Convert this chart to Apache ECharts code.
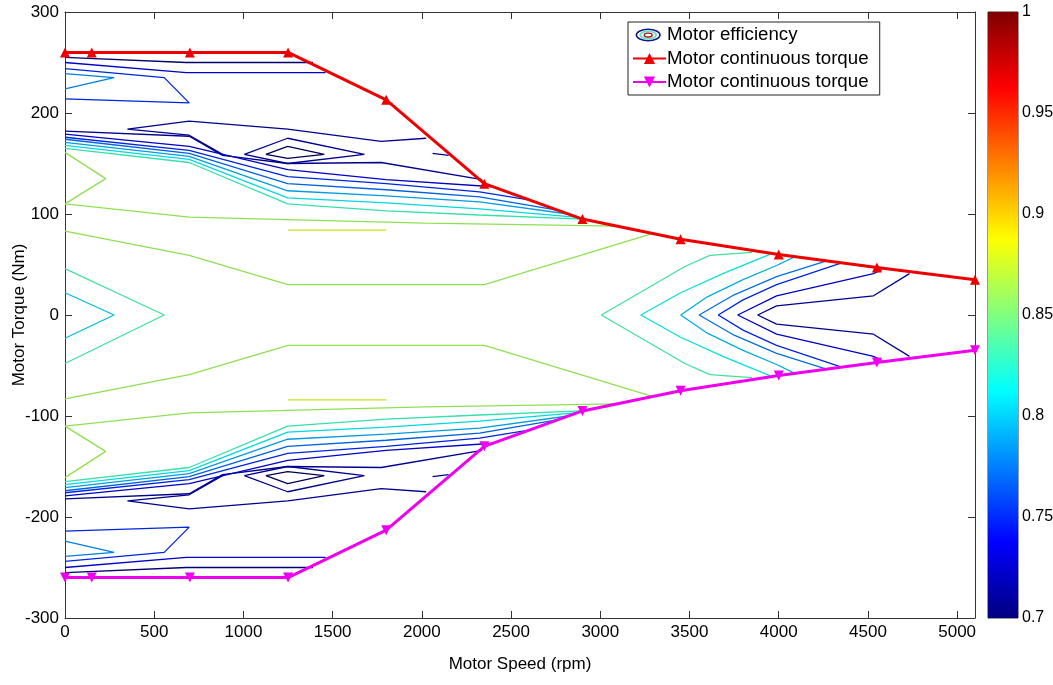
<!DOCTYPE html>
<html>
<head>
<meta charset="utf-8">
<script src="https://cdn.jsdelivr.net/npm/echarts@6/dist/echarts.min.js"></script>
<style>
  html, body { margin: 0; padding: 0; background: #fff; }
  #main { width: 1053px; height: 685px; }
</style>
</head>
<body>
<div id="main"></div>
<script>
// torque envelope
var speeds = [0, 150, 700, 1250, 1800, 2350, 2900, 3450, 4000, 4550, 5100];
var torqueMax = [260, 260, 260, 260, 213, 130, 95, 75, 60, 47, 35];
var torqueMin = [-260, -260, -260, -260, -213, -130, -95, -75, -60, -47, -35];

// contour lines, [speed, torque]
var top1 = [[0,255],[680,250],[1390,250]];
var top2 = [[0,250],[680,240],[1460,240]];
var top3 = [[0,244],[556,235],[696,210],[0,214]];
var top4 = [[0,239],[275,235],[0,224]];
var loopTop = [[2024,175],[1772,172],[1248,184],[696,192],[350,184],[696,178],[883,159]];
var diamondOutTop = [[1005,159],[1248,175],[1678,159],[1248,150],[1005,159]];
var diamondInTop = [[1126,159],[1248,167],[1453,159],[1248,155],[1126,159]];
var dashTop = [[2060,160],[2150,158]];
var aTop = [[0,182],[696,177],[883,158],[1248,150],[1772,151],[2338,134]];
var bTop = [[0,179],[696,167],[1248,144],[1800,134],[2400,127]];
var cTop = [[0,176],[696,163],[1248,137],[1800,130],[2323,122],[2600,114]];
var dTop = [[0,174],[696,160],[1248,130],[1800,124],[2323,117],[2750,104]];
var eTop = [[0,171],[696,157],[1248,123],[1800,118],[2323,112],[2820,100]];
var fTop = [[0,168],[696,154],[1248,116],[1800,111],[2323,105],[2860,97]];
var gTop = [[0,165],[696,151],[1248,110],[1800,103],[2323,99],[2900,95]];
var vTop = [[0,161],[228,135],[0,110]];
var ygTop = [[0,110],[696,97],[2017,91],[3100,88]];
var yelTop = [[1250,84],[1800,84]];
var ygMidTop = [[0,83],[696,59],[1250,30],[2350,30],[3300,81]];

var bot1 = [[0,-255],[680,-250],[1390,-250]];
var bot2 = [[0,-250],[680,-240],[1460,-240]];
var bot3 = [[0,-244],[556,-235],[696,-210],[0,-214]];
var bot4 = [[0,-239],[275,-235],[0,-224]];
var loopBot = [[2024,-175],[1772,-172],[1248,-184],[696,-192],[350,-184],[696,-178],[883,-159]];
var diamondOutBot = [[1005,-159],[1248,-175],[1678,-159],[1248,-150],[1005,-159]];
var diamondInBot = [[1126,-159],[1248,-167],[1453,-159],[1248,-155],[1126,-159]];
var dashBot = [[2060,-160],[2150,-158]];
var aBot = [[0,-182],[696,-177],[883,-158],[1248,-150],[1772,-151],[2338,-134]];
var bBot = [[0,-179],[696,-167],[1248,-144],[1800,-134],[2400,-127]];
var cBot = [[0,-176],[696,-163],[1248,-137],[1800,-130],[2323,-122],[2600,-114]];
var dBot = [[0,-174],[696,-160],[1248,-130],[1800,-124],[2323,-117],[2750,-104]];
var eBot = [[0,-171],[696,-157],[1248,-123],[1800,-118],[2323,-112],[2820,-100]];
var fBot = [[0,-168],[696,-154],[1248,-116],[1800,-111],[2323,-105],[2860,-97]];
var gBot = [[0,-165],[696,-151],[1248,-110],[1800,-103],[2323,-99],[2900,-95]];
var vBot = [[0,-161],[228,-135],[0,-110]];
var ygBot = [[0,-110],[696,-97],[2017,-91],[3100,-88]];
var yelBot = [[1250,-84],[1800,-84]];
var ygMidBot = [[0,-83],[696,-59],[1250,-30],[2350,-30],[3300,-81]];

var vLeftOuter = [[0,46],[556,0],[0,-48]];
var vLeftInner = [[0,22],[275,0],[0,-23]];

var vRight1 = [[3850,62],[3614,59],[3474,48],[3006,0],[3474,-48],[3614,-59],[3850,-62]];
var vRight2 = [[3950,60],[3700,42],[3450,22],[3227,0],[3450,-22],[3700,-42],[3950,-60]];
var vRight3 = [[4082,57],[3988,49],[3800,35],[3600,18],[3451,0],[3600,-18],[3800,-35],[3988,-49],[4082,-57]];
var vRight4 = [[4259,53],[3988,38],[3750,20],[3554,0],[3750,-20],[3988,-38],[4259,-53]];
var vRight5 = [[4344,51],[3988,30],[3800,15],[3661,0],[3800,-15],[3988,-30],[4344,-51]];
var vRight6 = [[4578,45],[4531,41],[3988,19],[3770,0],[3988,-19],[4531,-41],[4578,-45]];
var vRight7 = [[4733,41],[4531,19],[3988,9],[3882,0],[3988,-9],[4531,-19],[4733,-41]];

// efficiency level of each contour line
var contours = [
  [top1, 0.70], [top2, 0.73], [top3, 0.75], [top4, 0.78],
  [loopTop, 0.71], [diamondOutTop, 0.71], [diamondInTop, 0.69], [dashTop, 0.71],
  [aTop, 0.71], [bTop, 0.73], [cTop, 0.75], [dTop, 0.77], [eTop, 0.79], [fTop, 0.81], [gTop, 0.83],
  [vTop, 0.86], [ygTop, 0.86], [yelTop, 0.88], [ygMidTop, 0.86],
  [bot1, 0.70], [bot2, 0.73], [bot3, 0.75], [bot4, 0.78],
  [loopBot, 0.71], [diamondOutBot, 0.71], [diamondInBot, 0.69], [dashBot, 0.71],
  [aBot, 0.71], [bBot, 0.73], [cBot, 0.75], [dBot, 0.77], [eBot, 0.79], [fBot, 0.81], [gBot, 0.83],
  [vBot, 0.86], [ygBot, 0.86], [yelBot, 0.88], [ygMidBot, 0.86],
  [vLeftOuter, 0.835], [vLeftInner, 0.80],
  [vRight1, 0.835], [vRight2, 0.815], [vRight3, 0.795], [vRight4, 0.775],
  [vRight5, 0.75], [vRight6, 0.73], [vRight7, 0.71]
];

// matlab jet colormap, clim 0.7 .. 1 (lines drawn a little darker, like the source)
function jet(v, k) {
  var t = (v - 0.7) / 0.3;
  var c = function (x) { return Math.round(255 * k * Math.max(0, Math.min(1, x))); };
  return 'rgb(' + c(1.5 - Math.abs(4 * t - 3)) + ',' + c(1.5 - Math.abs(4 * t - 2)) + ',' + c(1.5 - Math.abs(4 * t - 1)) + ')';
}

var chart = echarts.init(document.getElementById('main'));

var font = 'Liberation Sans, Arial, sans-serif';
var effIcon = 'image://data:image/svg+xml;utf8,' + encodeURIComponent(
  '<svg xmlns="http://www.w3.org/2000/svg" width="33" height="16">' +
  '<ellipse cx="15" cy="8" rx="13.5" ry="6.5" fill="none" stroke="#181888" stroke-width="1.8"/>' +
  '<ellipse cx="15" cy="8" rx="9" ry="4.2" fill="none" stroke="#70e0c0" stroke-width="2.2"/>' +
  '<ellipse cx="15" cy="8" rx="4.5" ry="2.2" fill="none" stroke="#b01010" stroke-width="1.6"/>' +
  '</svg>');

var series = contours.map(function (c) {
  return {
    type: 'line',
    data: c[0],
    showSymbol: false,
    silent: true,
    animation: false,
    lineStyle: { width: 1.3, color: jet(c[1], 0.88) },
    z: 2
  };
});

series.push({ name: 'Motor efficiency', type: 'line', data: [], itemStyle: { color: '#101080' } });

series.push({
  name: 'Motor continuous torque',
  type: 'line',
  data: speeds.map(function (s, i) { return [s, torqueMax[i]]; }),
  symbol: 'triangle',
  symbolSize: 10,
  lineStyle: { width: 3, color: '#ee0000' },
  itemStyle: { color: '#ee0000' },
  animation: false,
  z: 5
});
series.push({
  name: 'Motor continuous torque ',
  type: 'line',
  data: speeds.map(function (s, i) { return [s, torqueMin[i]]; }),
  symbol: 'triangle',
  symbolRotate: 180,
  symbolSize: 10,
  lineStyle: { width: 3, color: '#ee00ee' },
  itemStyle: { color: '#ee00ee' },
  animation: false,
  z: 5
});

// colorbar
series.push({
  type: 'bar',
  xAxisIndex: 2,
  yAxisIndex: 2,
  data: [1],
  barWidth: '100%',
  silent: true,
  animation: false,
  itemStyle: {
    color: new echarts.graphic.LinearGradient(0, 1, 0, 0, [
      { offset: 0, color: '#000080' },
      { offset: 0.125, color: '#0000ff' },
      { offset: 0.375, color: '#00ffff' },
      { offset: 0.625, color: '#ffff00' },
      { offset: 0.875, color: '#ff0000' },
      { offset: 1, color: '#800000' }
    ])
  }
});

var axisLineStyle = { onZero: false, lineStyle: { color: '#333', width: 1 } };
var tickStyle = { inside: true, length: 7, lineStyle: { color: '#333' } };
var cbTick = { inside: true, length: 4, lineStyle: { color: '#333' } };

var option = {
  backgroundColor: '#fff',
  textStyle: { fontFamily: font },
  grid: [
    { left: 65, right: 78, top: 12, bottom: 67, containLabel: false, outerBoundsMode: 'none' },
    { left: 988, width: 30, top: 12, height: 606, containLabel: false, outerBoundsMode: 'none',
      show: true, borderColor: '#333', borderWidth: 1 }
  ],
  legend: {
    data: [
      { name: 'Motor efficiency', icon: effIcon },
      'Motor continuous torque',
      'Motor continuous torque '
    ],
    orient: 'vertical',
    left: 628,
    top: 22,
    padding: [3, 6, 3, 4],
    itemGap: 3.5,
    itemWidth: 33,
    itemHeight: 14,
    borderColor: '#222',
    borderWidth: 1,
    backgroundColor: '#fff',
    selectedMode: false,
    textStyle: { fontSize: 18.7, lineHeight: 20, color: '#000', fontFamily: font, padding: [0, 0, 0, -4] }
  },
  xAxis: [
    {
      type: 'value', gridIndex: 0, min: 0, max: 5100, interval: 500,
      name: 'Motor Speed (rpm)', nameLocation: 'middle', nameGap: 38,
      nameTextStyle: { fontSize: 17, color: '#000', fontFamily: font },
      axisLine: axisLineStyle, axisTick: tickStyle,
      axisLabel: { fontSize: 17, color: '#000', margin: 6, fontFamily: font,
        formatter: function (v) { return v % 500 === 0 ? v : ''; } },
      splitLine: { show: false }
    },
    {
      type: 'value', gridIndex: 0, position: 'top', min: 0, max: 5100, interval: 500,
      axisLine: axisLineStyle, axisTick: tickStyle, axisLabel: { show: false }, splitLine: { show: false }
    },
    {
      type: 'category', gridIndex: 1, data: ['c'],
      axisLine: { show: false }, axisTick: { show: false }, axisLabel: { show: false }
    }
  ],
  yAxis: [
    {
      type: 'value', gridIndex: 0, min: -300, max: 300, interval: 100,
      name: 'Motor Torque (Nm)', nameLocation: 'middle', nameGap: 37, nameMoveOverlap: false,
      nameTextStyle: { fontSize: 17, color: '#000', fontFamily: font },
      axisLine: axisLineStyle, axisTick: tickStyle,
      axisLabel: { fontSize: 17, color: '#000', margin: 6, fontFamily: font },
      splitLine: { show: false }
    },
    {
      type: 'value', gridIndex: 0, position: 'right', min: -300, max: 300, interval: 100,
      axisLine: axisLineStyle, axisTick: tickStyle, axisLabel: { show: false }, splitLine: { show: false }
    },
    {
      type: 'value', gridIndex: 1, position: 'right', min: 0.7, max: 1, interval: 0.05, startValue: 0.7,
      axisLine: { show: false }, axisTick: cbTick,
      axisLabel: { fontSize: 16, color: '#000', margin: 4, fontFamily: font,
        formatter: function (v) { return String(Math.round(v * 100) / 100); } },
      splitLine: { show: false }
    },
    {
      type: 'value', gridIndex: 1, position: 'left', min: 0.7, max: 1, interval: 0.05,
      axisLine: { show: false }, axisTick: cbTick, axisLabel: { show: false }, splitLine: { show: false }
    }
  ],
  series: series
};

chart.setOption(option);
</script>
</body>
</html>
